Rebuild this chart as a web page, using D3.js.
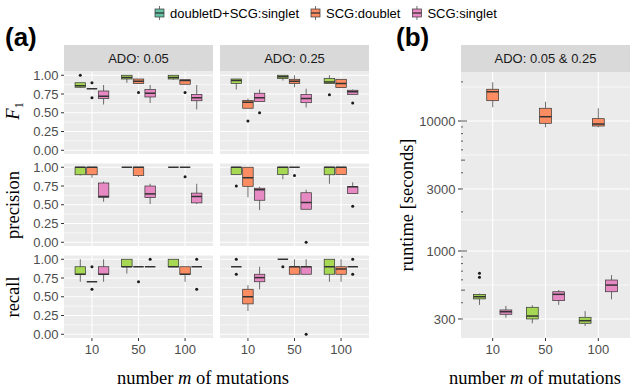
<!DOCTYPE html>
<html><head><meta charset="utf-8">
<script src="https://cdn.jsdelivr.net/npm/d3@7"></script>
<style>body{margin:0;background:#fff} svg{display:block}</style>
</head><body>
<svg id="c" width="633" height="390"></svg>
<script>
// ---------- data ----------
const categories = ["10", "50", "100"];
const methods = ["doubletD+SCG:singlet", "SCG:doublet", "SCG:singlet"];
const boxColors = ["#a6d854", "#fc8d62", "#e78ac3"];
const legendColors = ["#66c2a5", "#fc8d62", "#e78ac3"];
const adoLabels = ["ADO: 0.05", "ADO: 0.25"];
const runtimeLabel = "ADO: 0.05 & 0.25";
const metricTicks = [0, 0.25, 0.5, 0.75, 1];
const metricTickLabels = ["0.00", "0.25", "0.50", "0.75", "1.00"];
const runtimeTicks = [300, 1000, 3000, 10000];

// rows: [category, method index, whiskerLow, q1, median, q3, whiskerHigh, outliers]
const f1Ado005 = [
  ["10", 0, 0.83, 0.84, 0.86, 0.90, 0.90, [1.0]],
  ["10", 1, 0.82, 0.82, 0.82, 0.82, 0.82, [0.90, 0.70]],
  ["10", 2, 0.61, 0.69, 0.72, 0.79, 0.87, []],
  ["50", 0, 0.90, 0.95, 0.97, 1.0, 1.0, []],
  ["50", 1, 0.89, 0.89, 0.92, 0.95, 0.95, [0.77]],
  ["50", 2, 0.63, 0.71, 0.76, 0.81, 0.87, []],
  ["100", 0, 0.94, 0.95, 0.97, 1.0, 1.0, []],
  ["100", 1, 0.88, 0.88, 0.93, 0.94, 0.94, [0.77]],
  ["100", 2, 0.545, 0.66, 0.70, 0.745, 0.87, []]
];
const f1Ado025 = [
  ["10", 0, 0.81, 0.89, 0.93, 0.95, 0.95, []],
  ["10", 1, 0.56, 0.56, 0.64, 0.665, 0.69, [0.39]],
  ["10", 2, 0.65, 0.65, 0.70, 0.76, 0.81, [0.50]],
  ["50", 0, 0.93, 0.955, 0.98, 1.0, 1.0, []],
  ["50", 1, 0.84, 0.89, 0.92, 0.946, 1.0, []],
  ["50", 2, 0.57, 0.634, 0.69, 0.745, 0.82, []],
  ["100", 0, 0.89, 0.89, 0.91, 0.955, 1.0, [0.74]],
  ["100", 1, 0.835, 0.835, 0.89, 0.946, 0.946, []],
  ["100", 2, 0.745, 0.745, 0.78, 0.80, 0.81, [0.63]]
];
const precAdo005 = [
  ["10", 0, 0.89, 0.90, 1.0, 1.0, 1.0, []],
  ["10", 1, 0.86, 0.90, 1.0, 1.0, 1.0, []],
  ["10", 2, 0.54, 0.60, 0.61, 0.79, 0.81, []],
  ["50", 0, 1.0, 1.0, 1.0, 1.0, 1.0, []],
  ["50", 1, 0.87, 0.89, 1.0, 1.0, 1.0, []],
  ["50", 2, 0.51, 0.595, 0.645, 0.75, 0.78, []],
  ["100", 0, 1.0, 1.0, 1.0, 1.0, 1.0, []],
  ["100", 1, 1.0, 1.0, 1.0, 1.0, 1.0, [0.875]],
  ["100", 2, 0.51, 0.525, 0.61, 0.655, 0.78, []]
];
const precAdo025 = [
  ["10", 0, 0.905, 0.905, 1.0, 1.0, 1.0, [0.75]],
  ["10", 1, 0.60, 0.746, 0.86, 1.0, 1.0, []],
  ["10", 2, 0.43, 0.56, 0.70, 0.72, 0.74, []],
  ["50", 0, 0.84, 0.905, 1.0, 1.0, 1.0, []],
  ["50", 1, 1.0, 1.0, 1.0, 1.0, 1.0, [0.89]],
  ["50", 2, 0.44, 0.44, 0.53, 0.66, 0.70, [0.0]],
  ["100", 0, 0.78, 0.90, 1.0, 1.0, 1.0, []],
  ["100", 1, 0.905, 0.905, 1.0, 1.0, 1.0, []],
  ["100", 2, 0.65, 0.65, 0.74, 0.74, 0.80, [0.48]]
];
const recAdo005 = [
  ["10", 0, 0.70, 0.80, 0.80, 0.90, 1.0, []],
  ["10", 1, 0.70, 0.70, 0.70, 0.70, 0.70, [0.90, 0.60]],
  ["10", 2, 0.70, 0.80, 0.80, 0.90, 1.0, []],
  ["50", 0, 0.81, 0.90, 0.90, 1.0, 1.0, []],
  ["50", 1, 0.90, 0.90, 0.90, 0.90, 0.90, [0.70]],
  ["50", 2, 0.90, 0.90, 0.90, 0.90, 0.90, [1.0]],
  ["100", 0, 0.90, 0.90, 0.90, 1.0, 1.0, []],
  ["100", 1, 0.70, 0.80, 0.80, 0.90, 0.90, []],
  ["100", 2, 0.90, 0.90, 0.90, 0.90, 0.90, [1.0, 0.60]]
];
const recAdo025 = [
  ["10", 0, 0.90, 0.90, 0.90, 0.90, 0.90, [1.0, 0.80]],
  ["10", 1, 0.31, 0.405, 0.50, 0.60, 0.655, []],
  ["10", 2, 0.60, 0.70, 0.755, 0.80, 0.90, []],
  ["50", 0, 1.0, 1.0, 1.0, 1.0, 1.0, [0.90]],
  ["50", 1, 0.80, 0.80, 0.90, 0.90, 1.0, []],
  ["50", 2, 0.80, 0.80, 0.90, 0.90, 1.0, [0.0]],
  ["100", 0, 0.70, 0.80, 0.90, 1.0, 1.0, []],
  ["100", 1, 0.70, 0.80, 0.87, 0.90, 1.0, []],
  ["100", 2, 0.90, 0.90, 0.90, 0.90, 0.90, [1.0, 0.80]]
];
const runtimeSeconds = [
  ["10", 0, 385, 428, 445, 464, 470, [628, 673]],
  ["10", 1, 12750, 14330, 16790, 17550, 19870, []],
  ["10", 2, 307, 326, 341, 352, 378, []],
  ["50", 0, 278, 300, 316, 369, 382, []],
  ["50", 1, 8940, 9600, 10790, 12530, 14070, []],
  ["50", 2, 385, 415, 464, 486, 501, []],
  ["100", 0, 265, 278, 291, 309, 345, []],
  ["100", 1, 8940, 9150, 9480, 10420, 12530, []],
  ["100", 2, 425, 486, 547, 598, 653, []]
];

// ---------- style / layout ----------
const SANS = "'Liberation Sans', Arial, Helvetica, sans-serif";
const SERIF = "'Liberation Serif', 'Times New Roman', serif";
const svg = d3.select("#c");
const PANEL_BG = "#ebebeb", STRIP_BG = "#d9d9d9", AXIS_TXT = "#4d4d4d";

const facetX = [[64, 213], [220, 369]];
const rowTops = [71.5, 163.5, 255.5];
const rowH = 82.5;
const stripTop = 45;
const panelB = {x0: 461, x1: 630, y0: 72, y1: 338};

function panelBg(x0, x1, y0, y1) {
  svg.append("rect").attr("x", x0).attr("y", y0).attr("width", x1 - x0).attr("height", y1 - y0).attr("fill", PANEL_BG);
}
function strip(x0, x1, y0, y1, label) {
  svg.append("rect").attr("x", x0).attr("y", y0).attr("width", x1 - x0).attr("height", y1 - y0).attr("fill", STRIP_BG);
  svg.append("text").attr("x", (x0 + x1) / 2).attr("y", (y0 + y1) / 2).attr("dy", "0.36em")
    .attr("text-anchor", "middle").attr("font-family", SANS).attr("font-size", 13).attr("fill", "#1a1a1a").text(label);
}
function gridH(x0, x1, ys, w) {
  ys.forEach(y => svg.append("line").attr("x1", x0).attr("x2", x1).attr("y1", y).attr("y2", y)
    .attr("stroke", "#fff").attr("stroke-width", w));
}
function gridV(y0, y1, xs, w) {
  xs.forEach(x => svg.append("line").attr("x1", x).attr("x2", x).attr("y1", y0).attr("y2", y1)
    .attr("stroke", "#fff").attr("stroke-width", w));
}

function drawBoxes(data, xScale, yScale) {
  const step = xScale.step();
  const bw = 0.225 * step;
  const g = svg.append("g");
  data.forEach(d => {
    const [cat, m, lo, q1, med, q3, hi, outs] = d;
    const cx = xScale(cat) + (m - 1) * 0.25 * step;
    // whiskers
    g.append("line").attr("x1", cx).attr("x2", cx).attr("y1", yScale(hi)).attr("y2", yScale(q3))
      .attr("stroke", "#333").attr("stroke-width", 0.7);
    g.append("line").attr("x1", cx).attr("x2", cx).attr("y1", yScale(q1)).attr("y2", yScale(lo))
      .attr("stroke", "#333").attr("stroke-width", 0.7);
    // box
    g.append("rect").attr("x", cx - bw / 2).attr("y", yScale(q3)).attr("width", bw)
      .attr("height", Math.max(0, yScale(q1) - yScale(q3)))
      .attr("fill", boxColors[m]).attr("stroke", "#333").attr("stroke-width", 0.7);
    // median
    g.append("line").attr("x1", cx - bw / 2).attr("x2", cx + bw / 2).attr("y1", yScale(med)).attr("y2", yScale(med))
      .attr("stroke", "#333").attr("stroke-width", 1.5);
    outs.forEach(o => g.append("circle").attr("cx", cx).attr("cy", yScale(o)).attr("r", 1.5).attr("fill", "#1a1a1a"));
  });
}

function yAxisLeft(x0, yScale, ticks, labels) {
  ticks.forEach((t, i) => {
    const y = yScale(t);
    svg.append("line").attr("x1", x0 - 3).attr("x2", x0).attr("y1", y).attr("y2", y).attr("stroke", "#333").attr("stroke-width", 1);
    svg.append("text").attr("x", x0 - 5.5).attr("y", y).attr("dy", "0.36em").attr("text-anchor", "end")
      .attr("font-family", SANS).attr("font-size", 13).attr("fill", AXIS_TXT).text(labels[i]);
  });
}
function xAxisBottom(y0, xScale) {
  categories.forEach(c => {
    const x = xScale(c);
    svg.append("line").attr("x1", x).attr("x2", x).attr("y1", y0).attr("y2", y0 + 3).attr("stroke", "#333").attr("stroke-width", 1);
    svg.append("text").attr("x", x).attr("y", y0 + 15.5).attr("text-anchor", "middle")
      .attr("font-family", SANS).attr("font-size", 13).attr("fill", AXIS_TXT).text(c);
  });
}

// ---------- panel (a) ----------
const rowData = [[f1Ado005, f1Ado025], [precAdo005, precAdo025], [recAdo005, recAdo025]];
facetX.forEach(([x0, x1], fi) => strip(x0, x1, stripTop, rowTops[0], adoLabels[fi]));
rowTops.forEach((top, ri) => {
  const y = d3.scaleLinear().domain([-0.05, 1.05]).range([top + rowH, top]);
  facetX.forEach(([x0, x1], fi) => {
    const x = d3.scalePoint().domain(categories).range([x0, x1]).padding(0.6);
    panelBg(x0, x1, top, top + rowH);
    gridH(x0, x1, [0.125, 0.375, 0.625, 0.875].map(y), 0.6);
    gridH(x0, x1, metricTicks.map(y), 1.1);
    gridV(top, top + rowH, categories.map(x), 1.1);
    drawBoxes(rowData[ri][fi], x, y);
    if (ri === 2) xAxisBottom(top + rowH, x);
  });
  yAxisLeft(facetX[0][0], y, metricTicks, metricTickLabels);
});

// ---------- panel (b) ----------
{
  const {x0, x1, y0, y1} = panelB;
  strip(x0, x1, stripTop, y0, runtimeLabel);
  const lo = Math.pow(10, 4 - 217 / 130), hi = Math.pow(10, 4 + 49 / 130);
  const y = d3.scaleLog().domain([lo, hi]).range([y1, y0]);
  const x = d3.scalePoint().domain(categories).range([x0, x1]).padding(0.6);
  panelBg(x0, x1, y0, y1);
  const lt = runtimeTicks.map(v => Math.log10(v));
  const minor = [];
  for (let i = 0; i < lt.length - 1; i++) minor.push(Math.pow(10, (lt[i] + lt[i + 1]) / 2));
  minor.push(Math.pow(10, lt[3] + (lt[3] - lt[2]) / 2));
  gridH(x0, x1, minor.map(y), 0.6);
  gridH(x0, x1, runtimeTicks.map(y), 1.1);
  gridV(y0, y1, categories.map(x), 1.1);
  // log ticks (annotation_logticks style)
  for (let k = 2; k <= 4; k++) {
    for (let j = 1; j <= 9; j++) {
      const v = j * Math.pow(10, k);
      if (v < lo || v > hi) continue;
      const len = j === 1 ? 6 : (j === 5 ? 4 : 2);
      svg.append("line").attr("x1", x0).attr("x2", x0 + len).attr("y1", y(v)).attr("y2", y(v))
        .attr("stroke", "#333").attr("stroke-width", 0.8);
    }
  }
  drawBoxes(runtimeSeconds, x, y);
  yAxisLeft(x0, y, runtimeTicks, runtimeTicks.map(String));
  xAxisBottom(y1, x);
}

// ---------- titles ----------
function rotTitle(x, y, build) {
  const t = svg.append("text").attr("transform", `translate(${x},${y}) rotate(-90)`)
    .attr("text-anchor", "middle").attr("font-family", SERIF).attr("font-size", 18.5).attr("fill", "#000");
  build(t);
}
rotTitle(19, 111, t => {
  t.append("tspan").attr("font-style", "italic").text("F");
  t.append("tspan").attr("font-size", 12).attr("dy", 4).text("1");
});
rotTitle(19, 205, t => t.text("precision"));
rotTitle(19, 297, t => t.text("recall"));
rotTitle(413, 205, t => t.text("runtime [seconds]"));

function xTitle(cx) {
  const t = svg.append("text").attr("x", cx).attr("y", 384).attr("text-anchor", "middle")
    .attr("font-family", SERIF).attr("font-size", 18.5).attr("fill", "#000");
  t.append("tspan").text("number ");
  t.append("tspan").attr("font-style", "italic").text("m");
  t.append("tspan").text(" of mutations");
}
xTitle(203);
xTitle(535);

svg.append("text").attr("x", 5).attr("y", 46).attr("font-family", SANS).attr("font-size", 26)
  .attr("font-weight", "bold").attr("fill", "#000").text("(a)");
svg.append("text").attr("x", 396).attr("y", 46).attr("font-family", SANS).attr("font-size", 26)
  .attr("font-weight", "bold").attr("fill", "#000").text("(b)");

// ---------- legend ----------
{
  let lx = 155;
  const cy = 13;
  methods.forEach((m, i) => {
    const g = svg.append("g");
    g.append("line").attr("x1", lx + 4.5).attr("x2", lx + 4.5).attr("y1", cy - 7).attr("y2", cy + 7)
      .attr("stroke", "#333").attr("stroke-width", 0.7);
    g.append("rect").attr("x", lx).attr("y", cy - 4).attr("width", 9).attr("height", 8)
      .attr("fill", legendColors[i]).attr("stroke", "#333").attr("stroke-width", 0.7);
    g.append("line").attr("x1", lx).attr("x2", lx + 9).attr("y1", cy).attr("y2", cy)
      .attr("stroke", "#333").attr("stroke-width", 1.3);
    const t = g.append("text").attr("x", lx + 15).attr("y", cy).attr("dy", "0.36em")
      .attr("font-family", SANS).attr("font-size", 13).attr("fill", "#000").text(m);
    lx += 15 + t.node().getComputedTextLength() + 12;
  });
}
</script></body></html>
